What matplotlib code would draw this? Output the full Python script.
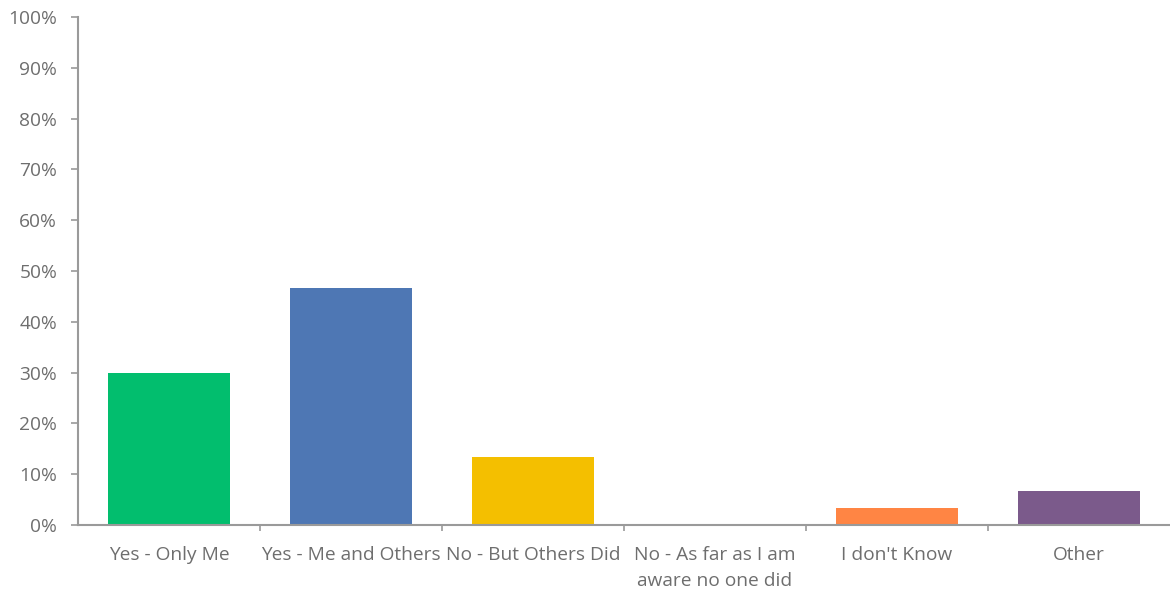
import matplotlib.pyplot as plt
from matplotlib.ticker import FixedLocator, PercentFormatter

plt.rcParams['font.family'] = ['Open Sans', 'DejaVu Sans']

# Respuestas de la encuesta (porcentaje de 30 respuestas)
categorias = ['Yes - Only Me', 'Yes - Me and Others', 'No - But Others Did',
              'No - As far as I am\naware no one did', "I don't Know", 'Other']
porcentajes = [30.0, 46.7, 13.3, 0.0, 3.3, 6.7]
colores = ['#02BE6E', '#4E77B4', '#F4BF00', '#2F5597', '#FF8544', '#7B5A8B']

gris_eje = '#9A9A9A'
gris_texto = '#6E6E6E'

fig = plt.figure(figsize=(11.7, 5.92), dpi=100)
ax = fig.add_axes([78 / 1170, 1 - 525 / 592, 1 - 78 / 1170, (525 - 17) / 592])

x = range(len(categorias))
ax.bar(x, porcentajes, width=0.67, color=colores)

ax.set_xlim(-0.5, len(categorias) - 0.5)
ax.set_ylim(0, 100)
ax.set_yticks(range(0, 101, 10))
ax.yaxis.set_major_formatter(PercentFormatter(decimals=0))

ax.set_xticks(list(x))
ax.set_xticklabels(categorias, fontsize=13.8, color=gris_texto, linespacing=1.55)
ax.xaxis.set_minor_locator(FixedLocator([i + 0.5 for i in range(len(categorias) - 1)]))

ax.tick_params(axis='x', which='major', length=0, pad=15)
ax.tick_params(axis='x', which='minor', length=4.5, width=1.2, color=gris_eje, direction='out')
ax.tick_params(axis='y', length=5, width=1.2, color=gris_eje, labelsize=13.8,
               labelcolor=gris_texto, pad=10)

for lado in ['top', 'right']:
    ax.spines[lado].set_visible(False)
for lado in ['left', 'bottom']:
    ax.spines[lado].set_color(gris_eje)
    ax.spines[lado].set_linewidth(1.5)

fig.savefig('out.png', dpi=100)
